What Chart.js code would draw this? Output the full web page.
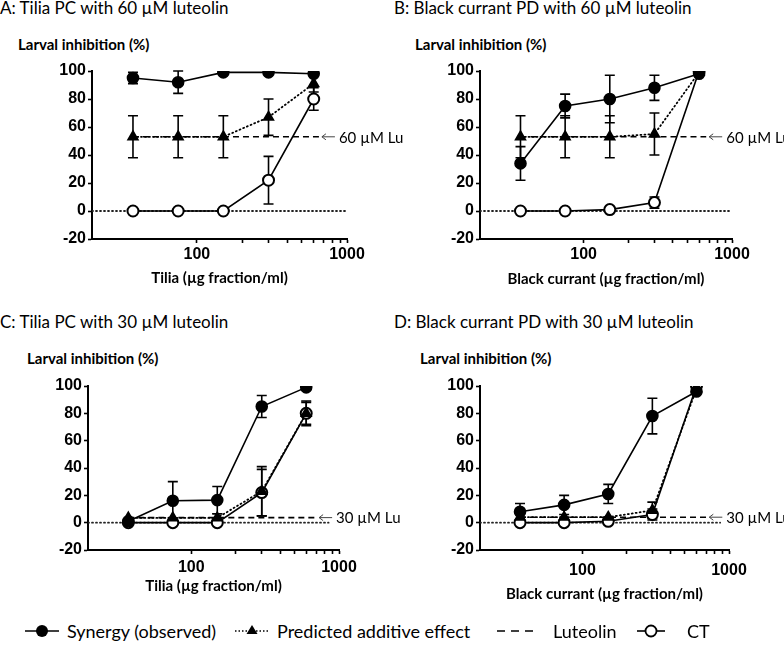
<!DOCTYPE html>
<html>
<head>
<meta charset="utf-8">
<script src="https://cdn.jsdelivr.net/npm/chart.js@4.4.1/dist/chart.umd.min.js"></script>
<style>
  body { margin: 0; background: #fff; width: 784px; height: 646px; position: relative; overflow: hidden; font-family: Lato, "Open Sans", sans-serif; color: #000; }
  canvas { position: absolute; }
  .ptitle { position: absolute; font-size: 17px; line-height: 18px; white-space: nowrap; }
  .ytitle { position: absolute; font-size: 15px; font-weight: bold; line-height: 16px; white-space: nowrap; }
  .leg { position: absolute; top: 619px; height: 24px; font-size: 18px; line-height: 24px; white-space: nowrap; }
  .leg svg { position: absolute; top: 0; }
  .leg span { position: absolute; top: 0; }
</style>
</head>
<body>

<div class="ptitle" style="left:0px;top:-1px">A: Tilia PC with 60 µM luteolin</div>
<div class="ptitle" style="left:394px;top:-1px">B: Black currant PD with 60 µM luteolin</div>
<div class="ptitle" style="left:0px;top:313px">C: Tilia PC with 30 µM luteolin</div>
<div class="ptitle" style="left:394px;top:313px">D: Black currant PD with 30 µM luteolin</div>

<div class="ytitle" style="left:18px;top:36px">Larval inhibition (%)</div>
<div class="ytitle" style="left:415px;top:36px">Larval inhibition (%)</div>
<div class="ytitle" style="left:27px;top:350px">Larval inhibition (%)</div>
<div class="ytitle" style="left:420px;top:350px">Larval inhibition (%)</div>

<canvas id="panelA" width="440" height="300" style="left:0;top:0"></canvas>
<canvas id="panelB" width="392" height="300" style="left:392px;top:0"></canvas>
<canvas id="panelC" width="440" height="310" style="left:0;top:300px"></canvas>
<canvas id="panelD" width="392" height="310" style="left:392px;top:300px"></canvas>

<!-- legend -->
<div class="leg" style="left:24px">
  <svg width="40" height="24" style="left:0"><line x1="1" y1="12" x2="35" y2="12" stroke="#000" stroke-width="1.6"/><circle cx="18" cy="12" r="6" fill="#000"/></svg>
  <span style="left:43px">Synergy (observed)</span>
</div>
<div class="leg" style="left:234px">
  <svg width="40" height="24" style="left:0"><line x1="1" y1="12" x2="36" y2="12" stroke="#000" stroke-width="1.6" stroke-dasharray="1.5 2"/><path d="M18 6 L23.5 15 L12.5 15 Z" fill="#000"/></svg>
  <span style="left:43px">Predicted additive effect</span>
</div>
<div class="leg" style="left:496px">
  <svg width="44" height="24" style="left:0"><line x1="1" y1="12" x2="40" y2="12" stroke="#000" stroke-width="1.6" stroke-dasharray="8 6"/></svg>
  <span style="left:57px">Luteolin</span>
</div>
<div class="leg" style="left:636px">
  <svg width="34" height="24" style="left:0"><line x1="1" y1="12" x2="29" y2="12" stroke="#000" stroke-width="1.6"/><circle cx="15" cy="12" r="5.5" fill="#fff" stroke="#000" stroke-width="1.8"/></svg>
  <span style="left:51px">CT</span>
</div>

<script>
// concentrations (µg fraction/ml)
const doses = [37.5, 75, 150, 300, 600];
const xTickValues = [100, 200, 300, 400, 500, 600, 700, 800, 900, 1000];
const yTickValues = [-20, 0, 20, 40, 60, 80, 100];

// A: Tilia PC + 60 µM luteolin
const synergyA = [95, 92, 99, 99, 98];
const synergyErrA = [4, 8, 0, 0, 0];
const predictedA = [53, 53, 53, 67, 91];
const predictedErrA = [15, 15, 15, 13, 6];
const ctA = [0, 0, 0, 22, 80];
const ctErrA = [0, 0, 0, 17, 8];
const luteolinA = 53;

// B: Black currant PD + 60 µM luteolin
const synergyB = [34, 75, 80, 88, 98];
const synergyErrB = [12, 8.5, 17, 9, 0];
const predictedB = [53, 53, 53, 55, 99];
const predictedErrB = [15, 15, 15, 15, 0];
const ctB = [0, 0, 1, 6, 100];
const ctErrB = [0, 0, 0, 4, 0];
const luteolinB = 53;

// C: Tilia PC + 30 µM luteolin
const synergyC = [1, 16, 16.5, 85, 99];
const synergyErrC = [0, 14, 10, 8, 0];
const predictedC = [3.5, 3.5, 3.5, 23, 80];
const predictedErrC = [0, 0, 3, 18, 9];
const ctC = [0, 0, 0, 22, 80];
const ctErrC = [0, 0, 0, 17, 8];
const luteolinC = 3.7;

// D: Black currant PD + 30 µM luteolin
const synergyD = [8, 13, 21, 78, 96];
const synergyErrD = [6, 7, 7, 13, 0];
const predictedD = [4, 4, 4, 9, 98];
const predictedErrD = [0, 0, 0, 6, 0];
const ctD = [0, 0, 1, 6, 100];
const ctErrD = [0, 0, 0, 4, 0];
const luteolinD = 4;

// where the reference lines stop on the x axis
const luteolinEnds = [650, 670, 700, 700];
const zeroEnds = [1000, 1000, 850, 870];
const luLabels = ['60 µM Lu', '60 µM Lu', '30 µM Lu', '30 µM Lu'];

const toXY = (ys) => ys.map((y, i) => ({ x: doses[i], y: y }));

// error bars drawn under the markers
const errorBars = {
  id: 'errorBars',
  beforeDatasetsDraw(chart) {
    const ctx = chart.ctx;
    const xs = chart.scales.x, ys = chart.scales.y;
    ctx.save();
    ctx.strokeStyle = '#000';
    ctx.lineWidth = 1.6;
    chart.data.datasets.forEach(ds => {
      if (!ds.errors) return;
      ds.data.forEach((p, i) => {
        const e = ds.errors[i];
        if (!e) return;
        const px = xs.getPixelForValue(p.x);
        const top = ys.getPixelForValue(p.y + e);
        const bot = ys.getPixelForValue(p.y - e);
        ctx.beginPath();
        ctx.moveTo(px, top); ctx.lineTo(px, bot);
        ctx.moveTo(px - 5, top); ctx.lineTo(px + 5, top);
        ctx.moveTo(px - 5, bot); ctx.lineTo(px + 5, bot);
        ctx.stroke();
      });
    });
    ctx.restore();
  }
};

// "← 60 µM Lu" label at the end of the luteolin line
const luLabel = {
  id: 'luLabel',
  afterDatasetsDraw(chart, args, opts) {
    const ctx = chart.ctx;
    const x0 = chart.scales.x.getPixelForValue(opts.x) + 3;
    const y0 = chart.scales.y.getPixelForValue(opts.y);
    ctx.save();
    ctx.strokeStyle = '#444';
    ctx.lineWidth = 1;
    ctx.beginPath();
    ctx.moveTo(x0, y0); ctx.lineTo(x0 + 13, y0);
    ctx.moveTo(x0 + 4, y0 - 3); ctx.lineTo(x0, y0); ctx.lineTo(x0 + 4, y0 + 3);
    ctx.stroke();
    ctx.fillStyle = '#000';
    ctx.font = '15px Lato, "Open Sans", sans-serif';
    ctx.textBaseline = 'middle';
    ctx.fillText(opts.text, x0 + 17, y0 + 1);
    ctx.restore();
  }
};

function makePanel(id, idx, synergy, synErr, predicted, predErr, ct, ctErr, lu, xTitle, geo) {
  const canvas = document.getElementById(id);
  const W = canvas.width, H = canvas.height;
  const xH = 55;
  return new Chart(canvas, {
    type: 'scatter',
    data: {
      datasets: [
        {
          label: 'Synergy (observed)',
          data: toXY(synergy),
          errors: synErr,
          showLine: true,
          borderColor: '#000',
          borderWidth: 1.6,
          pointStyle: 'circle',
          pointRadius: 5.5,
          pointBackgroundColor: '#000',
          pointBorderColor: '#000',
          order: 1
        },
        {
          label: 'Predicted additive effect',
          data: toXY(predicted),
          errors: predErr,
          showLine: true,
          borderColor: '#000',
          borderWidth: 1.8,
          borderDash: [1, 3],
          borderCapStyle: 'round',
          pointStyle: 'triangle',
          pointRadius: 5.5,
          pointBackgroundColor: '#000',
          pointBorderColor: '#000',
          order: 2
        },
        {
          label: 'CT',
          data: toXY(ct),
          errors: ctErr,
          showLine: true,
          borderColor: '#000',
          borderWidth: 1.6,
          pointStyle: 'circle',
          pointRadius: 5.5,
          pointBorderWidth: 2,
          pointBackgroundColor: '#fff',
          pointBorderColor: '#000',
          order: 3
        },
        {
          label: 'Luteolin',
          data: [{ x: doses[0], y: lu }, { x: luteolinEnds[idx], y: lu }],
          showLine: true,
          borderColor: '#000',
          borderWidth: 1.6,
          borderDash: [6, 4],
          pointRadius: 0,
          order: 4
        },
        {
          label: 'zero',
          data: [{ x: 20, y: 0 }, { x: zeroEnds[idx], y: 0 }],
          showLine: true,
          borderColor: '#222',
          borderWidth: 1.8,
          borderDash: [1, 3],
          borderCapStyle: 'round',
          pointRadius: 0,
          order: 5
        }
      ]
    },
    options: {
      responsive: false,
      animation: false,
      layout: {
        padding: { left: 0, top: geo.top, right: W - geo.right, bottom: H - geo.bottom - xH }
      },
      plugins: {
        legend: { display: false },
        tooltip: { enabled: false },
        luLabel: { x: luteolinEnds[idx], y: lu, text: luLabels[idx] }
      },
      scales: {
        x: {
          type: 'logarithmic',
          min: 20,
          max: 1000,
          afterFit: s => { s.height = xH; },
          afterBuildTicks: s => { s.ticks = xTickValues.map(v => ({ value: v })); },
          ticks: {
            autoSkip: false,
            maxRotation: 0,
            padding: geo.tickPad,
            color: '#000',
            font: { family: '"Liberation Sans", Arial, sans-serif', size: 16, weight: 'bold' },
            callback: v => (v === 100 || v === 1000) ? String(v) : ''
          },
          grid: { drawOnChartArea: false, color: '#000', tickLength: 4, tickWidth: 1.6 },
          border: { color: '#000', width: 2 },
          title: {
            display: true,
            text: xTitle,
            color: '#000',
            font: { family: 'Lato, "Open Sans", sans-serif', size: 15, weight: 'bold' },
            padding: { top: 0, bottom: geo.titlePad }
          }
        },
        y: {
          min: -20,
          max: 100,
          afterFit: s => { s.width = geo.left; },
          afterBuildTicks: s => { s.ticks = yTickValues.map(v => ({ value: v })); },
          ticks: {
            padding: 2,
            color: '#000',
            font: { family: '"Liberation Sans", Arial, sans-serif', size: 16, weight: 'bold' }
          },
          grid: { drawOnChartArea: false, color: '#000', tickLength: 4, tickWidth: 1.6 },
          border: { color: '#000', width: 2 }
        }
      }
    },
    plugins: [errorBars, luLabel]
  });
}

const xTitleTilia = 'Tilia (\u00b5g fraction/ml)';
const xTitleCurrant = 'Black currant (\u00b5g fraction/ml)';

makePanel('panelA', 0, synergyA, synergyErrA, predictedA, predictedErrA, ctA, ctErrA, luteolinA, xTitleTilia,
  { left: 92, right: 347, top: 71, bottom: 239, tickPad: 2, titlePad: 7 });
makePanel('panelB', 1, synergyB, synergyErrB, predictedB, predictedErrB, ctB, ctErrB, luteolinB, xTitleCurrant,
  { left: 88, right: 340, top: 71, bottom: 239, tickPad: 2, titlePad: 6 });
makePanel('panelC', 2, synergyC, synergyErrC, predictedC, predictedErrC, ctC, ctErrC, luteolinC, xTitleTilia,
  { left: 88, right: 339, top: 86, bottom: 250, tickPad: 4, titlePad: 10 });
makePanel('panelD', 3, synergyD, synergyErrD, predictedD, predictedErrD, ctD, ctErrD, luteolinD, xTitleCurrant,
  { left: 88, right: 337, top: 86, bottom: 250, tickPad: 7, titlePad: 2 });
</script>
</body>
</html>
